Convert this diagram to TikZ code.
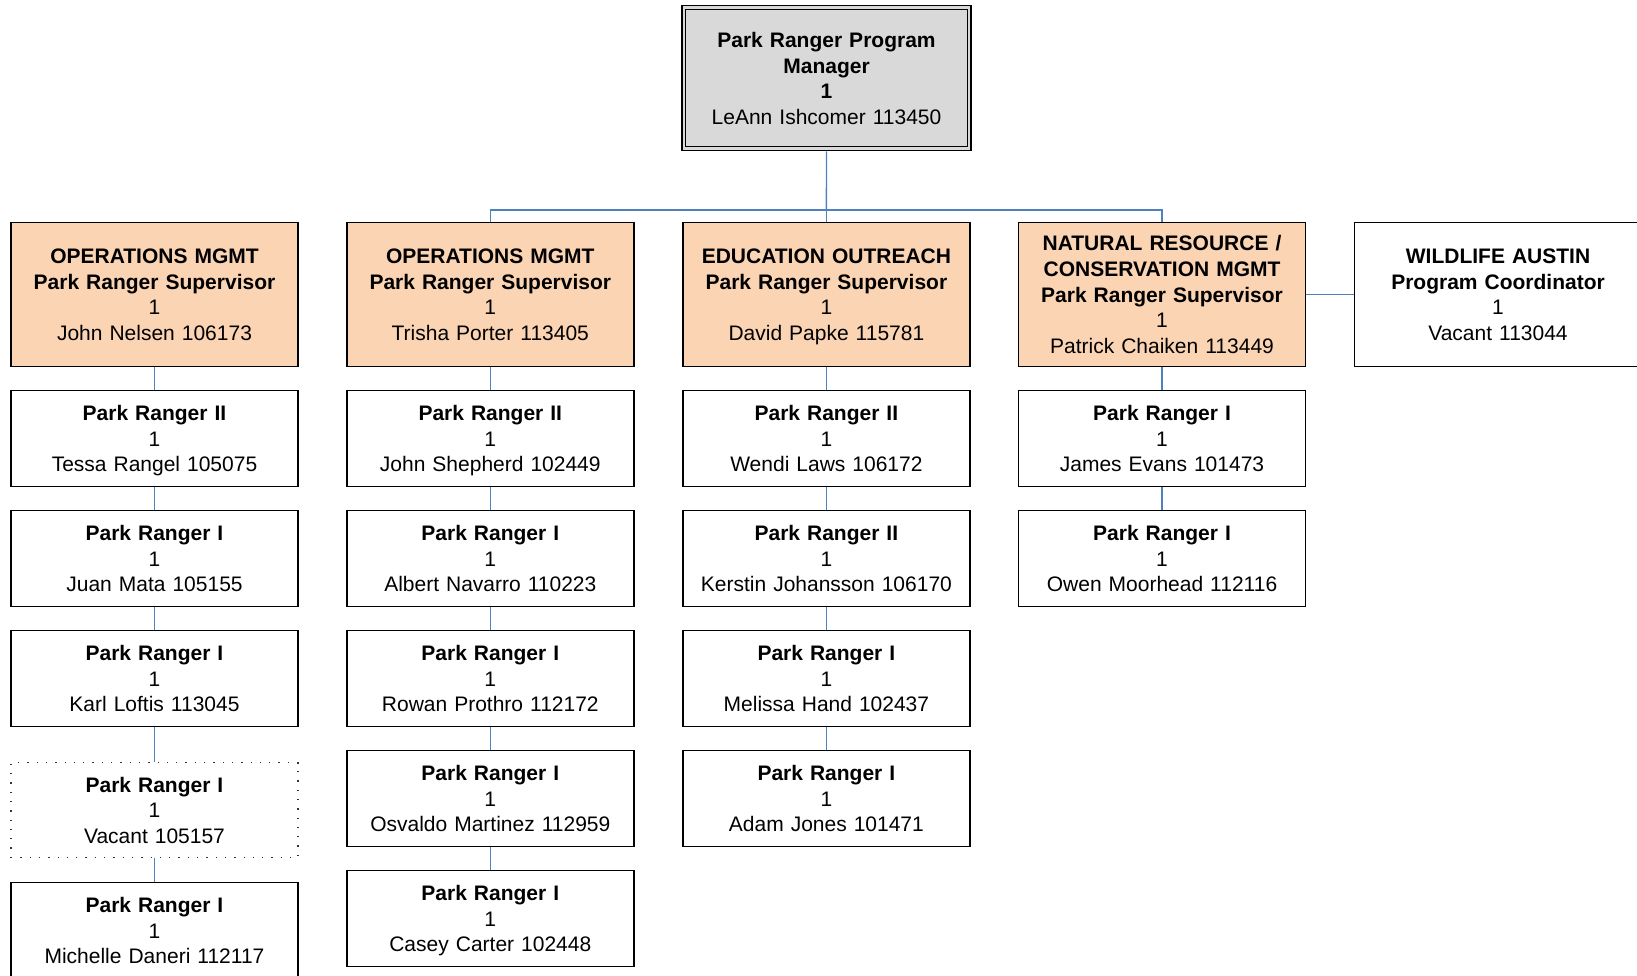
\documentclass[tikz,border=0pt]{standalone}
\usepackage{fontspec}
\setmainfont{Liberation Sans}
\definecolor{peach}{HTML}{FBD4B4}
\definecolor{mgrgray}{HTML}{D9D9D9}
\definecolor{linkblue}{HTML}{4F81BD}
\newcommand{\topstrut}{\rule{0pt}{23pt}}
\newcommand{\pcard}[2]{\topstrut\textbf{#1}\\1\\#2\strut}
\tikzset{
  card/.style={draw=black, line width=1.4pt, fill=white, minimum width=287pt, minimum height=96pt,
    text width=282pt, align=center, inner sep=0pt, font=\fontsize{21}{25.6}\selectfont},
  supcard/.style={card, fill=peach, minimum height=144pt},
  vacantcard/.style={card, draw=black!80, line width=1.3pt, dash pattern=on 1.3pt off 8pt, minimum height=94.6pt},
  link/.style={draw=linkblue, line width=1.4pt}
}
\begin{document}
\begin{tikzpicture}[x=1pt, y=-1pt]
\useasboundingbox (0,0) rectangle (1637,976);
\clip (0,0) rectangle (1637,976);
% top manager
\node[card, fill=mgrgray, minimum width=289pt, minimum height=145pt] (top) at (826.5,78.2)
  {\topstrut\textbf{Park Ranger Program}\\\textbf{Manager}\\\textbf{1}\\LeAnn Ishcomer 113450\strut};
\draw[line width=1.2pt] ([shift={(4.5,4.5)}]top.north west) rectangle ([shift={(-4.5,-4.5)}]top.south east);
% row 1 supervisors
\node[supcard] (s1) at (154.5,294.4) {\topstrut\textbf{OPERATIONS MGMT}\\\textbf{Park Ranger Supervisor}\\1\\John Nelsen 106173\strut};
\node[supcard] (s2) at (490.3,294.4) {\topstrut\textbf{OPERATIONS MGMT}\\\textbf{Park Ranger Supervisor}\\1\\Trisha Porter 113405\strut};
\node[supcard] (s3) at (826.4,294.4) {\topstrut\textbf{EDUCATION OUTREACH}\\\textbf{Park Ranger Supervisor}\\1\\David Papke 115781\strut};
\node[supcard] (s4) at (1162,294.4) {\topstrut\textbf{NATURAL RESOURCE /}\\\textbf{CONSERVATION MGMT}\\\textbf{Park Ranger Supervisor}\\1\\Patrick Chaiken 113449\strut};
\node[card, minimum height=144pt] (s5) at (1498,294.4) {\topstrut\textbf{WILDLIFE AUSTIN}\\\textbf{Program Coordinator}\\1\\Vacant 113044\strut};
% column 1
\node[card] (a2) at (154.5,438.5) {\pcard{Park Ranger II}{Tessa Rangel 105075}};
\node[card] (a3) at (154.5,558.6) {\pcard{Park Ranger I}{Juan Mata 105155}};
\node[card] (a4) at (154.5,678.6) {\pcard{Park Ranger I}{Karl Loftis 113045}};
\node[vacantcard] (a5) at (154.5,810) {\pcard{Park Ranger I}{Vacant 105157}};
\node[card] (a6) at (154.5,930.7) {\pcard{Park Ranger I}{Michelle Daneri 112117}};
% column 2
\node[card] (b2) at (490.3,438.5) {\pcard{Park Ranger II}{John Shepherd 102449}};
\node[card] (b3) at (490.3,558.6) {\pcard{Park Ranger I}{Albert Navarro 110223}};
\node[card] (b4) at (490.3,678.6) {\pcard{Park Ranger I}{Rowan Prothro 112172}};
\node[card] (b5) at (490.3,798.7) {\pcard{Park Ranger I}{Osvaldo Martinez 112959}};
\node[card] (b6) at (490.3,918.7) {\pcard{Park Ranger I}{Casey Carter 102448}};
% column 3
\node[card] (c2) at (826.4,438.5) {\pcard{Park Ranger II}{Wendi Laws 106172}};
\node[card] (c3) at (826.4,558.6) {\pcard{Park Ranger II}{Kerstin Johansson 106170}};
\node[card] (c4) at (826.4,678.6) {\pcard{Park Ranger I}{Melissa Hand 102437}};
\node[card] (c5) at (826.4,798.7) {\pcard{Park Ranger I}{Adam Jones 101471}};
% column 4
\node[card] (d2) at (1162,438.5) {\pcard{Park Ranger I}{James Evans 101473}};
\node[card] (d3) at (1162,558.6) {\pcard{Park Ranger I}{Owen Moorhead 112116}};
% connectors
\coordinate (bus) at (826.4,210);
\draw[link] (top.south) -- (bus);
\draw[link] (s2.north) |- (bus) -| (s4.north);
\draw[link] (bus) -- (s3.north);
\draw[link] (s4.east) -- (s5.west);
\draw[link] (s1.south) -- (a2.north);
\draw[link] (a2.south) -- (a3.north);
\draw[link] (a3.south) -- (a4.north);
\draw[link] (a4.south) -- (a5.north);
\draw[link] (a5.south) -- (a6.north);
\draw[link] (s2.south) -- (b2.north);
\draw[link] (b2.south) -- (b3.north);
\draw[link] (b3.south) -- (b4.north);
\draw[link] (b4.south) -- (b5.north);
\draw[link] (b5.south) -- (b6.north);
\draw[link] (s3.south) -- (c2.north);
\draw[link] (c2.south) -- (c3.north);
\draw[link] (c3.south) -- (c4.north);
\draw[link] (c4.south) -- (c5.north);
\draw[link] (s4.south) -- (d2.north);
\draw[link] (d2.south) -- (d3.north);
\end{tikzpicture}
\end{document}
